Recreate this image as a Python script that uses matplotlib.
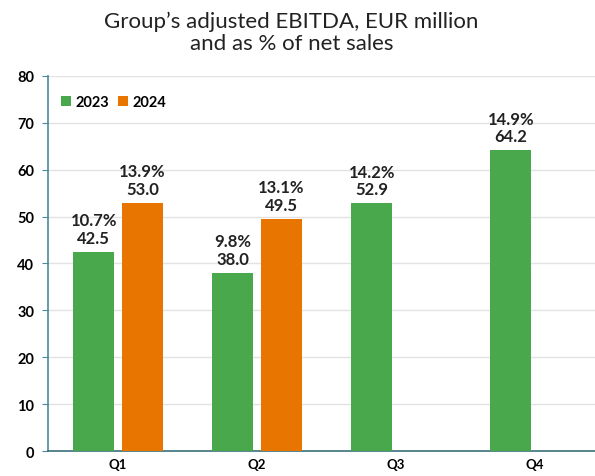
import matplotlib
matplotlib.use("Agg")
import matplotlib.pyplot as plt
import numpy as np

plt.rcParams['font.family'] = ['Lato', 'DejaVu Sans']

quarters = ["Q1", "Q2", "Q3", "Q4"]
values_2023 = [42.5, 38.0, 52.9, 64.2]
pct_2023 = ["10.7%", "9.8%", "14.2%", "14.9%"]
values_2024 = [53.0, 49.5]
pct_2024 = ["13.9%", "13.1%"]
yticks = [0, 10, 20, 30, 40, 50, 60, 70, 80]

green = "#4aa84c"
orange = "#e87500"
axis_col = "#4a8a99"

fig = plt.figure(figsize=(5.95, 4.77), dpi=100)
ax = fig.add_axes([0.0807, 0.0524, 0.9193, 0.7862])

x = np.arange(len(quarters))
off = 0.176
w = 0.295
ax.bar(x - off, values_2023, width=w, color=green, label="2023", zorder=3)
x2 = np.arange(len(values_2024))
ax.bar(x2 + off, values_2024, width=w, color=orange, label="2024", zorder=3)

for xi, v, p in zip(x - off, values_2023, pct_2023):
    ax.annotate(f"{p}\n{v:.1f}", (xi, v), xytext=(0, 4), textcoords="offset points",
                ha="center", va="bottom", fontsize=12, fontweight="bold",
                color="#222222", linespacing=1.15)
for xi, v, p in zip(x2 + off, values_2024, pct_2024):
    ax.annotate(f"{p}\n{v:.1f}", (xi, v), xytext=(0, 4), textcoords="offset points",
                ha="center", va="bottom", fontsize=12, fontweight="bold",
                color="#222222", linespacing=1.15)

ax.set_xlim(-0.504, 3.43)
ax.set_ylim(0, 80)
ax.set_yticks(yticks)
ax.set_xticks(x)
ax.set_xticklabels(quarters, fontsize=9.5, fontweight="bold")
for lab in ax.get_yticklabels():
    lab.set_fontsize(10.5)
    lab.set_fontweight("bold")
ax.grid(axis="y", color="#e2e2e2", linewidth=1, zorder=0)
ax.tick_params(axis="y", length=4, color=axis_col, pad=6)
ax.tick_params(axis="x", length=0, pad=5)
for s in ["top", "right"]:
    ax.spines[s].set_visible(False)
ax.spines["left"].set_color(axis_col)
ax.spines["bottom"].set_color("#3a6f7a")
ax.spines["left"].set_linewidth(1.2)
ax.spines["bottom"].set_linewidth(1.2)

ax.legend(loc="upper left", bbox_to_anchor=(0.0, 0.985), ncol=2, frameon=False,
          handlelength=0.7, handleheight=0.7, handletextpad=0.3, columnspacing=0.6,
          prop={"weight": "bold", "size": 10.5})

fig.text(0.49, 0.975, "Group’s adjusted EBITDA, EUR million\nand as % of net sales",
         ha="center", va="top", fontsize=16, color="#222222", linespacing=1.1)

fig.savefig("out.png", dpi=100)
